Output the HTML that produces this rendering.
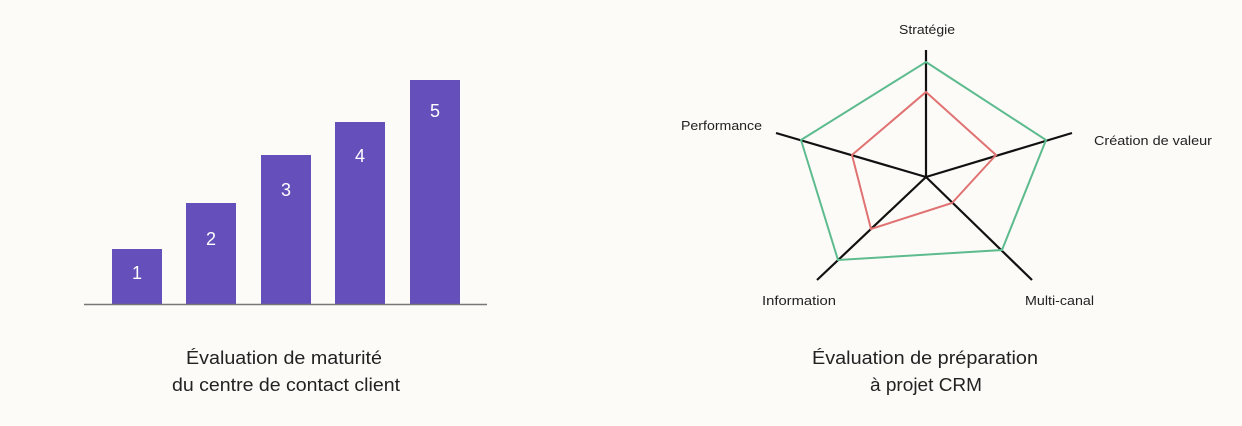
<!DOCTYPE html>
<html><head><meta charset="utf-8"><style>
html,body{margin:0;padding:0;background:#fdfbf8;}
svg{display:block}
text{font-family:"Liberation Sans",sans-serif;}
</style></head><body>
<svg width="1242" height="426" viewBox="0 0 1242 426" xmlns="http://www.w3.org/2000/svg">
<rect width="1242" height="426" fill="#fdfbf8"/>
<g fill="#644fbb">
<rect x="112" y="249" width="50" height="55"/>
<rect x="186" y="203" width="50" height="101"/>
<rect x="261" y="155" width="50" height="149"/>
<rect x="335" y="122" width="50" height="182"/>
<rect x="410" y="80" width="50" height="224"/>
</g>
<line x1="84" y1="304.5" x2="487" y2="304.5" stroke="#777" stroke-width="1.5"/>
<g fill="#fff" font-size="18" text-anchor="middle">
<text x="137" y="279">1</text>
<text x="211" y="245">2</text>
<text x="286" y="196">3</text>
<text x="360" y="162">4</text>
<text x="435" y="117">5</text>
</g>
<g fill="#222" font-size="18.5">
<text x="186" y="364" textLength="196" lengthAdjust="spacingAndGlyphs">Évaluation de maturité</text>
<text x="172" y="391" textLength="228" lengthAdjust="spacingAndGlyphs">du centre de contact client</text>
<text x="812" y="364" textLength="226" lengthAdjust="spacingAndGlyphs">Évaluation de préparation</text>
<text x="870" y="391" textLength="112" lengthAdjust="spacingAndGlyphs">à projet CRM</text>
</g>
<g stroke="#111" stroke-width="2.2" fill="none">
<line x1="926" y1="177" x2="926" y2="50"/>
<line x1="926" y1="177" x2="1072" y2="133"/>
<line x1="926" y1="177" x2="776" y2="133"/>
<line x1="926" y1="177" x2="817" y2="280"/>
<line x1="926" y1="177" x2="1032" y2="280"/>
</g>
<polygon points="926,62 1046,140 1002,250 838,260 801,140" fill="none" stroke="#5dbb8e" stroke-width="2"/>
<polygon points="926,92 996,155 952,203 871,229 852,155" fill="none" stroke="#e07272" stroke-width="2"/>
<g fill="#222" font-size="12.5">
<text x="899" y="34" textLength="56" lengthAdjust="spacingAndGlyphs">Stratégie</text>
<text x="1094" y="145" textLength="118" lengthAdjust="spacingAndGlyphs">Création de  valeur</text>
<text x="681" y="130" textLength="81" lengthAdjust="spacingAndGlyphs">Performance</text>
<text x="762" y="305" textLength="74" lengthAdjust="spacingAndGlyphs">Information</text>
<text x="1025" y="305" textLength="69" lengthAdjust="spacingAndGlyphs">Multi-canal</text>
</g>
</svg>
</body></html>
